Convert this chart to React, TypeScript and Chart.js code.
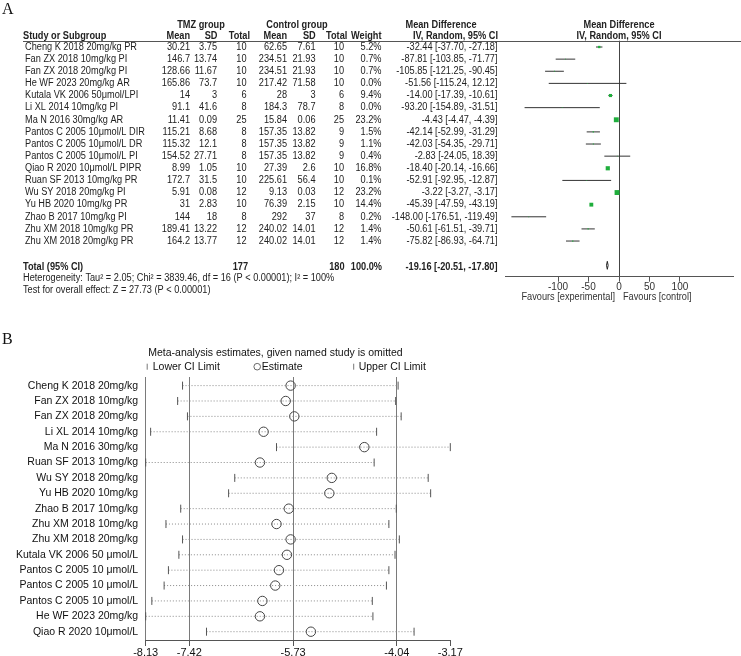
import React, { useEffect, useRef } from "react";
import { Chart, registerables } from "chart.js";

Chart.register(...registerables);
Chart.defaults.font.family = 'Arial, "Liberation Sans", sans-serif';

// ---------------- Panel A data ----------------
const studiesA = [
  "Cheng K 2018 20mg/kg PR",
  "Fan ZX 2018 10mg/kg PI",
  "Fan ZX 2018 20mg/kg PI",
  "He WF 2023 20mg/kg AR",
  "Kutala VK 2006 50μmol/LPI",
  "Li XL 2014 10mg/kg PI",
  "Ma N 2016 30mg/kg AR",
  "Pantos C 2005 10μmol/L DIR",
  "Pantos C 2005 10μmol/L DR",
  "Pantos C 2005 10μmol/L PI",
  "Qiao R 2020 10μmol/L PIPR",
  "Ruan SF 2013 10mg/kg PR",
  "Wu SY 2018 20mg/kg PI",
  "Yu HB 2020 10mg/kg PR",
  "Zhao B 2017 10mg/kg PI",
  "Zhu XM 2018 10mg/kg PR",
  "Zhu XM 2018 20mg/kg PR",
];
const tmzMean = [30.21, 146.7, 128.66, 165.86, 14, 91.1, 11.41, 115.21, 115.32, 154.52, 8.99, 172.7, 5.91, 31, 144, 189.41, 164.2];
const tmzSD = [3.75, 13.74, 11.67, 73.7, 3, 41.6, 0.09, 8.68, 12.1, 27.71, 1.05, 31.5, 0.08, 2.83, 18, 13.22, 13.77];
const tmzN = [10, 10, 10, 10, 6, 8, 25, 8, 8, 8, 10, 10, 12, 10, 8, 12, 12];
const ctlMean = [62.65, 234.51, 234.51, 217.42, 28, 184.3, 15.84, 157.35, 157.35, 157.35, 27.39, 225.61, 9.13, 76.39, 292, 240.02, 240.02];
const ctlSD = [7.61, 21.93, 21.93, 71.58, 3, 78.7, 0.06, 13.82, 13.82, 13.82, 2.6, 56.4, 0.03, 2.15, 37, 14.01, 14.01];
const ctlN = [10, 10, 10, 10, 6, 8, 25, 9, 9, 9, 10, 10, 12, 10, 8, 12, 12];
const weights = [5.2, 0.7, 0.7, 0.0, 9.4, 0.0, 23.2, 1.5, 1.1, 0.4, 16.8, 0.1, 23.2, 14.4, 0.2, 1.4, 1.4];
const mdValues = [-32.44, -87.81, -105.85, -51.56, -14.0, -93.2, -4.43, -42.14, -42.03, -2.83, -18.4, -52.91, -3.22, -45.39, -148.0, -50.61, -75.82];
const ciLower = [-37.7, -103.85, -121.25, -115.24, -17.39, -154.89, -4.47, -52.99, -54.35, -24.05, -20.14, -92.95, -3.27, -47.59, -176.51, -61.51, -86.93];
const ciUpper = [-27.18, -71.77, -90.45, 12.12, -10.61, -31.51, -4.39, -31.29, -29.71, 18.39, -16.66, -12.87, -3.17, -43.19, -119.49, -39.71, -64.71];
const totalTmzN = 177;
const totalCtlN = 180;
const totalWeight = 100.0;
const totalMD = -19.16;
const totalLower = -20.51;
const totalUpper = -17.8;
const heterogeneityText = "Heterogeneity: Tau² = 2.05; Chi² = 3839.46, df = 16 (P < 0.00001); I² = 100%";
const overallText = "Test for overall effect: Z = 27.73 (P < 0.00001)";
const forestTicks = [-100, -50, 0, 50, 100];

// ---------------- Panel B data ----------------
const studiesB = [
  "Cheng K 2018 20mg/kg",
  "Fan ZX 2018 10mg/kg",
  "Fan ZX 2018 20mg/kg",
  "Li XL 2014 10mg/kg",
  "Ma N 2016 30mg/kg",
  "Ruan SF 2013 10mg/kg",
  "Wu SY 2018 20mg/kg",
  "Yu HB 2020 10mg/kg",
  "Zhao B 2017 10mg/kg",
  "Zhu XM 2018 10mg/kg",
  "Zhu XM 2018 20mg/kg",
  "Kutala VK 2006 50 μmol/L",
  "Pantos C 2005 10 μmol/L",
  "Pantos C 2005 10 μmol/L",
  "Pantos C 2005 10 μmol/L",
  "He WF 2023 20mg/kg",
  "Qiao R 2020 10μmol/L",
];
const lowerB = [-7.53, -7.61, -7.45, -8.05, -6.0, -8.13, -6.68, -6.78, -7.56, -7.8, -7.53, -7.59, -7.76, -7.83, -8.03, -8.13, -7.14];
const estB = [-5.77, -5.85, -5.71, -6.21, -4.57, -6.27, -5.1, -5.14, -5.8, -6.0, -5.77, -5.83, -5.96, -6.02, -6.23, -6.27, -5.44];
const upperB = [-4.02, -4.06, -3.97, -4.37, -3.17, -4.41, -3.53, -3.49, -4.05, -4.17, -4.0, -4.07, -4.17, -4.21, -4.44, -4.43, -3.76];
const ticksB = [-8.13, -7.42, -5.73, -4.04, -3.17];

// ---------------- helpers ----------------
const TXT = "#222";
const SX = 0.92;

function drawText(ctx: CanvasRenderingContext2D, s: string, x: number, y: number, align: CanvasTextAlign, font: string, color = TXT, sx = SX) {
  ctx.save();
  ctx.font = font;
  ctx.fillStyle = color;
  ctx.textAlign = align;
  ctx.textBaseline = "middle";
  ctx.translate(x, y);
  ctx.scale(sx, 1);
  ctx.fillText(s, 0, 0);
  ctx.restore();
}

const fmt2 = (v: number) => v.toFixed(2);
const ciText = (m: number, l: number, u: number) => `${fmt2(m)} [${fmt2(l)}, ${fmt2(u)}]`;

const REG = '10px Arial, "Liberation Sans", sans-serif';
const BOLD = 'bold 10px Arial, "Liberation Sans", sans-serif';

// column anchors (right edges unless noted)
const COL = {
  name: 25,
  tmzMean: 190,
  tmzSD: 217,
  tmzN: 246.5,
  ctlMean: 287,
  ctlSD: 315.5,
  ctlN: 344,
  weight: 381.5,
  md: 497.5,
};

const tablePlugin = {
  id: "tableA",
  afterDraw(chart: any) {
    const ctx: CanvasRenderingContext2D = chart.ctx;
    const ys = chart.scales.y;
    const xs = chart.scales.x;
    const py = (v: number) => ys.getPixelForValue(v);
    // panel letter
    ctx.save();
    ctx.font = '16px "Liberation Serif", "Times New Roman", serif';
    ctx.fillStyle = "#111";
    ctx.textBaseline = "alphabetic";
    ctx.fillText("A", 2, 13.5);
    ctx.restore();

    // headers
    const h1 = py(-1.81);
    const h2 = py(-0.9);
    drawText(ctx, "TMZ group", 201, h1, "center", BOLD);
    drawText(ctx, "Control group", 297, h1, "center", BOLD);
    drawText(ctx, "Mean Difference", 441, h1, "center", BOLD);
    drawText(ctx, "Mean Difference", 619, h1, "center", BOLD);
    drawText(ctx, "Study or Subgroup", 23, h2, "left", BOLD);
    drawText(ctx, "Mean", 190, h2, "right", BOLD);
    drawText(ctx, "SD", 217.5, h2, "right", BOLD);
    drawText(ctx, "Total", 250, h2, "right", BOLD);
    drawText(ctx, "Mean", 287, h2, "right", BOLD);
    drawText(ctx, "SD", 315.7, h2, "right", BOLD);
    drawText(ctx, "Total", 347.3, h2, "right", BOLD);
    drawText(ctx, "Weight", 381.5, h2, "right", BOLD);
    drawText(ctx, "IV, Random, 95% CI", 498, h2, "right", BOLD);
    drawText(ctx, "IV, Random, 95% CI", 619, h2, "center", BOLD);

    // header rule
    ctx.save();
    ctx.strokeStyle = "#555";
    ctx.lineWidth = 1;
    const ly = Math.round(chart.chartArea.top) + 0.5;
    ctx.beginPath();
    ctx.moveTo(23, ly);
    ctx.lineTo(741, ly);
    ctx.stroke();
    ctx.restore();

    // rows
    studiesA.forEach((name, i) => {
      const y = py(i);
      drawText(ctx, name, COL.name, y, "left", REG);
      drawText(ctx, String(tmzMean[i]), COL.tmzMean, y, "right", REG);
      drawText(ctx, String(tmzSD[i]), COL.tmzSD, y, "right", REG);
      drawText(ctx, String(tmzN[i]), COL.tmzN, y, "right", REG);
      drawText(ctx, String(ctlMean[i]), COL.ctlMean, y, "right", REG);
      drawText(ctx, String(ctlSD[i]), COL.ctlSD, y, "right", REG);
      drawText(ctx, String(ctlN[i]), COL.ctlN, y, "right", REG);
      drawText(ctx, weights[i].toFixed(1) + "%", COL.weight, y, "right", REG);
      drawText(ctx, ciText(mdValues[i], ciLower[i], ciUpper[i]), COL.md, y, "right", REG);
    });

    // total
    const ty = py(18.15);
    drawText(ctx, "Total (95% CI)", 23, ty, "left", BOLD);
    drawText(ctx, String(totalTmzN), 248, ty, "right", BOLD);
    drawText(ctx, String(totalCtlN), 344.5, ty, "right", BOLD);
    drawText(ctx, totalWeight.toFixed(1) + "%", 382, ty, "right", BOLD);
    drawText(ctx, ciText(totalMD, totalLower, totalUpper), 497.5, ty, "right", BOLD);

    drawText(ctx, heterogeneityText, 23, py(19.1), "left", REG);
    drawText(ctx, overallText, 23, py(20.03), "left", REG);

    const zx = xs.getPixelForValue(0);
    drawText(ctx, "Favours [experimental]", zx - 4, py(20.6), "right", REG, "#333");
    drawText(ctx, "Favours [control]", zx + 4, py(20.6), "left", REG, "#333");
  },
};

const B_REG = '10.5px Arial, "Liberation Sans", sans-serif';

const panelBPlugin = {
  id: "panelB",
  afterDraw(chart: any) {
    const ctx: CanvasRenderingContext2D = chart.ctx;
    ctx.save();
    ctx.font = '16px "Liberation Serif", "Times New Roman", serif';
    ctx.fillStyle = "#111";
    ctx.textBaseline = "alphabetic";
    ctx.fillText("B", 2, 23.5);
    ctx.restore();

    const left = chart.chartArea.left;
    drawText(ctx, "Meta-analysis estimates, given named study is omitted", left + 2.5, 32.7, "left", B_REG, "#111", 1);
    const ly = 46.7;
    ctx.save();
    ctx.strokeStyle = "#777";
    ctx.lineWidth = 1;
    ctx.beginPath();
    ctx.moveTo(left + 1.5, ly - 3);
    ctx.lineTo(left + 1.5, ly + 3);
    ctx.moveTo(left + 208, ly - 3);
    ctx.lineTo(left + 208, ly + 3);
    ctx.stroke();
    ctx.strokeStyle = "#666";
    ctx.beginPath();
    ctx.arc(left + 111.5, ly, 3.3, 0, Math.PI * 2);
    ctx.stroke();
    ctx.restore();
    drawText(ctx, "Lower CI Limit", left + 7, ly, "left", B_REG, "#111", 1);
    drawText(ctx, "Estimate", left + 116, ly, "left", B_REG, "#111", 1);
    drawText(ctx, "Upper CI Limit", left + 213, ly, "left", B_REG, "#111", 1);
  },
};

export default function App() {
  const refA = useRef<HTMLCanvasElement>(null);
  const refB = useRef<HTMLCanvasElement>(null);

  useEffect(() => {
    // ----- Panel A -----
    const ciSets = studiesA.map((_, i) => ({
      type: "scatter",
      showLine: true,
      data: [
        { x: ciLower[i], y: i },
        { x: ciUpper[i], y: i },
      ],
      borderColor: "#333",
      borderWidth: 1,
      pointRadius: 0,
      clip: false,
      order: 3,
    }));
    const squares = {
      type: "scatter",
      data: mdValues.map((v, i) => ({ x: v, y: i })),
      pointStyle: "rect",
      pointRadius: weights.map((w) => Math.max(0.75, Math.sqrt(w)) * 0.72),
      backgroundColor: "#1fae3c",
      borderColor: "#1fae3c",
      borderWidth: 0,
      clip: false,
      order: 1,
    };
    const diamond = {
      type: "scatter",
      showLine: true,
      data: [
        { x: totalLower, y: 18 },
        { x: totalMD, y: 17.67 },
        { x: totalUpper, y: 18 },
        { x: totalMD, y: 18.33 },
        { x: totalLower, y: 18 },
      ],
      borderColor: "#222",
      backgroundColor: "#222",
      borderWidth: 1,
      pointRadius: 0,
      clip: false,
      order: 2,
    };

    const chartA = new Chart(refA.current as HTMLCanvasElement, {
      type: "scatter",
      data: { datasets: [squares, diamond, ...ciSets] as any },
      options: {
        responsive: false,
        animation: false,
        events: [],
        layout: { padding: { left: 505, right: 8, top: 40.7, bottom: 0 } },
        plugins: { legend: { display: false }, tooltip: { enabled: false } },
        scales: {
          x: {
            type: "linear",
            min: -187,
            max: 187,
            afterBuildTicks: (s: any) => {
              s.ticks = forestTicks.map((v) => ({ value: v }));
            },
            afterFit: (s: any) => {
              s.height = 43.3;
            },
            grid: {
              drawOnChartArea: true,
              color: (c: any) => (c.tick && c.tick.value === 0 ? "#444" : "rgba(0,0,0,0)"),
              tickColor: "#555",
              tickLength: 5,
              lineWidth: 1,
            },
            border: { display: true, color: "#555", width: 1 },
            ticks: {
              autoSkip: false,
              maxRotation: 0,
              padding: 0,
              color: "#333",
              font: { size: 10 },
              callback: (v: any) => String(v),
            },
          },
          y: { type: "linear", display: false, reverse: true, min: -0.52, max: 18.94 },
        },
      } as any,
      plugins: [tablePlugin],
    });

    // ----- Panel B -----
    const dotted = studiesB.map((_, i) => ({
      type: "scatter",
      showLine: true,
      data: [
        { x: lowerB[i], y: i },
        { x: upperB[i], y: i },
      ],
      borderColor: "#8a8a8a",
      borderWidth: 1,
      borderDash: [1, 2],
      pointRadius: 0,
      clip: false,
      order: 3,
    }));
    const lowTicks = {
      type: "scatter",
      data: lowerB.map((v, i) => ({ x: v, y: i })),
      pointStyle: "line",
      rotation: 90,
      pointRadius: 4,
      borderColor: "#555",
      borderWidth: 1,
      clip: false,
      order: 2,
    };
    const upTicks = {
      type: "scatter",
      data: upperB.map((v, i) => ({ x: v, y: i })),
      pointStyle: "line",
      rotation: 90,
      pointRadius: 4,
      borderColor: "#555",
      borderWidth: 1,
      clip: false,
      order: 2,
    };
    const estimates = {
      type: "scatter",
      data: estB.map((v, i) => ({ x: v, y: i })),
      pointStyle: "circle",
      pointRadius: 4.7,
      borderColor: "#444",
      backgroundColor: "rgba(0,0,0,0)",
      borderWidth: 1,
      clip: false,
      order: 1,
    };

    const chartB = new Chart(refB.current as HTMLCanvasElement, {
      type: "scatter",
      data: { datasets: [estimates, lowTicks, upTicks, ...dotted] as any },
      options: {
        responsive: false,
        animation: false,
        events: [],
        layout: { padding: { left: 0, right: 290.7, top: 57, bottom: 0 } },
        plugins: { legend: { display: false }, tooltip: { enabled: false } },
        scales: {
          x: {
            type: "linear",
            min: ticksB[0],
            max: ticksB[ticksB.length - 1],
            afterBuildTicks: (s: any) => {
              s.ticks = ticksB.map((v) => ({ value: v }));
            },
            afterFit: (s: any) => {
              s.height = 16;
            },
            grid: {
              drawOnChartArea: true,
              color: (c: any) => (c.tick && c.tick.value === ticksB[ticksB.length - 1] ? "rgba(0,0,0,0)" : "#7a7a7a"),
              tickColor: "#555",
              tickLength: 6,
              lineWidth: 1,
            },
            border: { display: true, color: "#555", width: 1 },
            ticks: {
              autoSkip: false,
              maxRotation: 0,
              padding: 0,
              color: "#111",
              font: { size: 11 },
              callback: (v: any) => Number(v).toFixed(2),
            },
          },
          y: {
            type: "linear",
            reverse: true,
            min: -0.56,
            max: 16.54,
            afterBuildTicks: (s: any) => {
              s.ticks = studiesB.map((_, i) => ({ value: i }));
            },
            afterFit: (s: any) => {
              s.width = 145.7;
            },
            grid: { display: false, drawTicks: false },
            border: { display: false },
            ticks: {
              autoSkip: false,
              padding: 7.5,
              color: "#111",
              font: { size: 10.5 },
              callback: (v: any) => studiesB[v] ?? "",
            },
          },
        },
      } as any,
      plugins: [panelBPlugin],
    });

    return () => {
      chartA.destroy();
      chartB.destroy();
    };
  }, []);

  return (
    <div style={{ position: "fixed", left: 0, top: 0, width: 741, height: 656, background: "#fff", overflow: "hidden" }}>
      <canvas ref={refA} width={741} height={320} style={{ position: "absolute", left: 0, top: 0 }} />
      <canvas ref={refB} width={741} height={336} style={{ position: "absolute", left: 0, top: 320 }} />
    </div>
  );
}
